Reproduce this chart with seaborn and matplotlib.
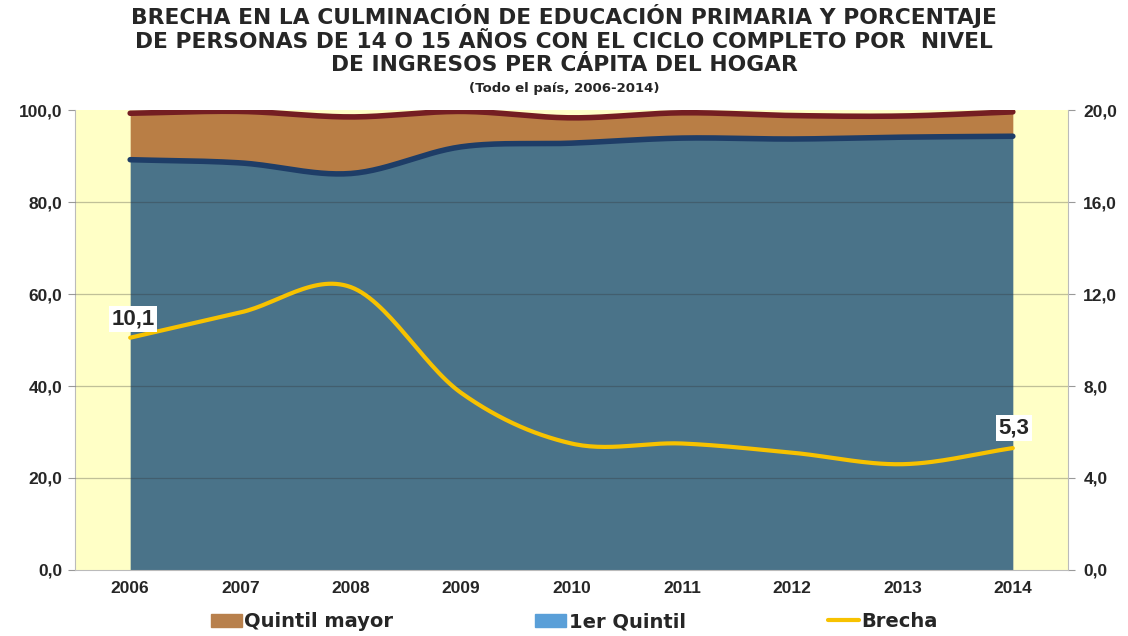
import numpy as np
import pandas as pd
import matplotlib
matplotlib.use('Agg')
import matplotlib.pyplot as plt
import seaborn as sns
from matplotlib.patches import Patch
from matplotlib.lines import Line2D

# data
years = [2006, 2007, 2008, 2009, 2010, 2011, 2012, 2013, 2014]
quintil_mayor = [99.3, 99.7, 98.5, 99.7, 98.3, 99.4, 98.8, 98.7, 99.6]
primer_quintil = [89.2, 88.5, 86.2, 92.0, 92.8, 93.9, 93.7, 94.1, 94.3]
brecha = [10.1, 11.2, 12.3, 7.7, 5.5, 5.5, 5.1, 4.6, 5.3]
left_ticks = [0, 20, 40, 60, 80, 100]
right_ticks = [0, 4, 8, 12, 16, 20]

title = ("BRECHA EN LA CULMINACIÓN DE EDUCACIÓN PRIMARIA Y PORCENTAJE\n"
         "DE PERSONAS DE 14 O 15 AÑOS CON EL CICLO COMPLETO POR  NIVEL\n"
         "DE INGRESOS PER CÁPITA DEL HOGAR")
subtitle = "(Todo el país, 2006-2014)"


def smooth(y, n=30):
    # catmull-rom curve through the points, like excel's smoothed line
    y = np.asarray(y, dtype=float)
    x = np.arange(len(y), dtype=float)
    p = np.concatenate([[2 * y[0] - y[1]], y, [2 * y[-1] - y[-2]]])
    xs, ys = [], []
    for i in range(len(y) - 1):
        t = np.linspace(0, 1, n, endpoint=False)
        p0, p1, p2, p3 = p[i], p[i + 1], p[i + 2], p[i + 3]
        yy = 0.5 * ((2 * p1) + (-p0 + p2) * t + (2 * p0 - 5 * p1 + 4 * p2 - p3) * t ** 2
                    + (-p0 + 3 * p1 - 3 * p2 + p3) * t ** 3)
        xs.append(x[i] + t)
        ys.append(yy)
    xs.append([x[-1]])
    ys.append([y[-1]])
    return np.concatenate(xs), np.concatenate(ys)


sns.set_style('white')
plt.rcParams['font.family'] = ['Liberation Sans', 'DejaVu Sans']

fig = plt.figure(figsize=(11.28, 6.36), dpi=100)
ax = fig.add_axes([0.0665, 0.1038, 0.8803, 0.7232])
ax.set_facecolor('#FFFFC6')

xs, top = smooth(quintil_mayor)
_, q1 = smooth(primer_quintil)
_, br = smooth(brecha)

ax.fill_between(xs, 0, q1, color='#4A7389', zorder=2, linewidth=0)
ax.fill_between(xs, q1, top, color='#B97E45', zorder=2, linewidth=0)

df = pd.DataFrame({'x': xs, 'top': top, 'q1': q1, 'br': br})
sns.lineplot(data=df, x='x', y='top', ax=ax, color='#741E22', linewidth=4, zorder=4,
             solid_capstyle='round')
sns.lineplot(data=df, x='x', y='q1', ax=ax, color='#1E3D67', linewidth=4, zorder=4,
             solid_capstyle='round')

for v in left_ticks[1:-1]:
    ax.axhline(v, color='#303030', alpha=0.3, linewidth=0.9, zorder=3)

ax.set_xlim(-0.5, len(years) - 0.5)
ax.set_ylim(0, 100)
ax.set_yticks(left_ticks)
ax.set_yticklabels([f'{v:.1f}'.replace('.', ',') for v in left_ticks],
                   fontsize=12.5, fontweight='bold')
ax.set_xticks(range(len(years)))
ax.set_xticklabels([str(y) for y in years], fontsize=12.5, fontweight='bold')
ax.set_xticks(np.arange(-0.5, len(years), 1), minor=True)
ax.tick_params(axis='x', which='major', length=0, pad=8)
ax.tick_params(axis='x', which='minor', length=5, color='#999999')
ax.tick_params(axis='y', length=5, color='#999999', pad=4)
ax.set_xlabel('')
ax.set_ylabel('')
for s in ['top', 'right']:
    ax.spines[s].set_visible(False)
for s in ['left', 'bottom']:
    ax.spines[s].set_color('#BBBBBB')

ax2 = ax.twinx()
ax2.set_ylim(0, 20)
ax2.set_yticks(right_ticks)
ax2.set_yticklabels([f'{v:.1f}'.replace('.', ',') for v in right_ticks],
                    fontsize=12.5, fontweight='bold')
ax2.tick_params(axis='y', length=5, color='#999999', pad=6)
for s in ['top', 'left', 'bottom']:
    ax2.spines[s].set_visible(False)
ax2.spines['right'].set_color('#BBBBBB')
sns.lineplot(data=df, x='x', y='br', ax=ax2, color='#F7C200', linewidth=3, zorder=5)
ax2.set_ylabel('')
ax2.set_xlabel('')

bbox = dict(boxstyle='square,pad=0.12', fc='white', ec='none')
ax2.annotate(f'{brecha[0]:.1f}'.replace('.', ','), (0, brecha[0]), xytext=(2, 6),
             textcoords='offset points', ha='center', va='bottom',
             fontsize=16, fontweight='bold', bbox=bbox, zorder=6)
ax2.annotate(f'{brecha[-1]:.1f}'.replace('.', ','), (len(years) - 1, brecha[-1]), xytext=(1, 7),
             textcoords='offset points', ha='center', va='bottom',
             fontsize=16, fontweight='bold', bbox=bbox, zorder=6)

fig.text(0.5, 0.993, title, ha='center', va='top', fontsize=15.7, fontweight='bold',
         fontfamily='DejaVu Sans', linespacing=1.22)
fig.text(0.5, 0.861, subtitle, ha='center', va='center', fontsize=9.5, fontweight='bold',
         fontfamily='DejaVu Sans')

handles = [Patch(color='#B8804C'), Patch(color='#5A9FD8'),
           Line2D([0], [0], color='#F7C200', linewidth=3)]
fig.legend(handles, ['Quintil mayor', '1er Quintil', 'Brecha'], loc='lower center',
           bbox_to_anchor=(0.509, -0.02), ncol=3, frameon=False,
           columnspacing=7.3, handlelength=1.6, handletextpad=0.12,
           prop={'weight': 'bold', 'size': 14, 'family': 'DejaVu Sans'})

fig.savefig('out.png', dpi=100)
